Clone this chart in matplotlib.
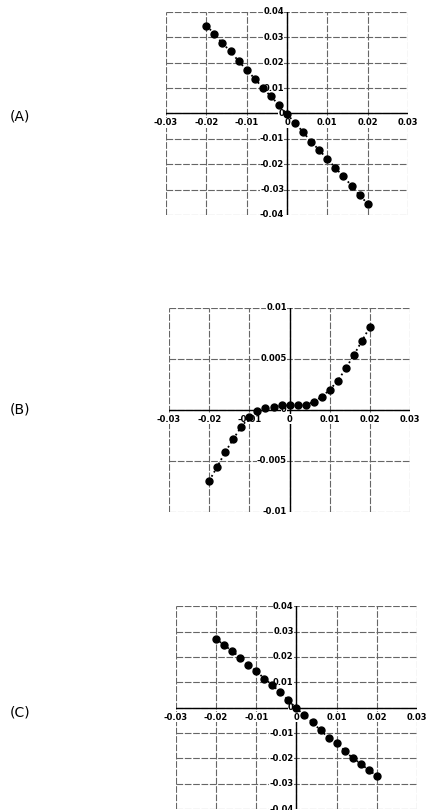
import numpy as np
import matplotlib
matplotlib.use("Agg")
import matplotlib.pyplot as plt
from matplotlib.ticker import FormatStrFormatter

# datos
x_vals = [-0.020, -0.018, -0.016, -0.014, -0.012, -0.010, -0.008, -0.006, -0.004, -0.002,
          0.000, 0.002, 0.004, 0.006, 0.008, 0.010, 0.012, 0.014, 0.016, 0.018, 0.020]

y_a = [0.0346, 0.0314, 0.0276, 0.0245, 0.0206, 0.0172, 0.0137, 0.0101, 0.0067, 0.0034,
       -0.0004, -0.0036, -0.0074, -0.0111, -0.0145, -0.0179, -0.0215, -0.0248, -0.0285, -0.0323, -0.0355]

y_b = [-0.00695, -0.00557, -0.00413, -0.00285, -0.00164, -0.00072, -0.00016, 0.00016, 0.00030, 0.00043,
       0.00043, 0.00043, 0.00049, 0.00079, 0.00128, 0.00197, 0.00285, 0.00407, 0.00538, 0.00675, 0.00813]

y_c = [0.0272, 0.0246, 0.0224, 0.0196, 0.0167, 0.0144, 0.0115, 0.0089, 0.0060, 0.0029,
       -0.0003, -0.0029, -0.0058, -0.0089, -0.0118, -0.0141, -0.0169, -0.0199, -0.0220, -0.0247, -0.0268]

x_ticks = [-0.03, -0.02, -0.01, 0, 0.01, 0.02, 0.03]
y_ticks_ac = [-0.04, -0.03, -0.02, -0.01, 0, 0.01, 0.02, 0.03, 0.04]
y_ticks_b = [-0.01, -0.005, 0, 0.005, 0.01]

etiquetas = ["(A)", "(B)", "(C)"]

fig = plt.figure(figsize=(4.29, 8.10), dpi=100)


def panel(rect, y, yticks, ylim, etiqueta, ylab):
    ax = fig.add_axes(rect)
    ax.plot(x_vals, y, linestyle=':', color='black', linewidth=1.3,
            marker='o', markersize=5, markerfacecolor='black', markeredgecolor='black', zorder=5)
    ax.set_xlim(-0.03, 0.03)
    ax.set_ylim(*ylim)
    ax.set_xticks(x_ticks)
    ax.set_yticks(yticks)
    for s in ['top', 'right', 'left', 'bottom']:
        ax.spines[s].set_visible(False)
    ax.grid(True, color='0.4', linewidth=0.8, linestyle=(0, (6, 1.5)))
    ax.axhline(0, color='black', linewidth=1.0, zorder=3)
    ax.axvline(0, color='black', linewidth=1.0, zorder=3)
    ax.tick_params(length=0)
    ax.set_xticklabels([])
    ax.set_yticklabels([])
    # etiquetas de ejes en el cruce del cero
    for t in x_ticks:
        ax.annotate('%g' % t, xy=(t, 0), xytext=(0, -3.5), textcoords='offset points',
                    ha='center', va='top', fontsize=6, fontweight='bold', zorder=4,
                    annotation_clip=False,
                    bbox=dict(facecolor='white', edgecolor='none', pad=0.2))
    for t in yticks:
        ax.annotate('%g' % t, xy=(0, t), xytext=(-2, 0), textcoords='offset points',
                    ha='right', va='center', fontsize=6, fontweight='bold', zorder=4,
                    annotation_clip=False,
                    bbox=dict(facecolor='white', edgecolor='none', pad=0.2))
    fig.text(0.023, ylab, etiqueta, fontsize=10, ha='left', va='center')
    return ax


panel([0.387, 0.7346, 0.564, 0.2506], y_a, y_ticks_ac, (-0.04, 0.04), etiquetas[0], 1 - 117 / 810)
panel([0.394, 0.368, 0.562, 0.252], y_b, y_ticks_b, (-0.01, 0.01), etiquetas[1], 1 - 409 / 810)
panel([0.410, 0.001, 0.562, 0.2506], y_c, y_ticks_ac, (-0.04, 0.04), etiquetas[2], 1 - 712 / 810)

fig.savefig("out.png", dpi=100)
